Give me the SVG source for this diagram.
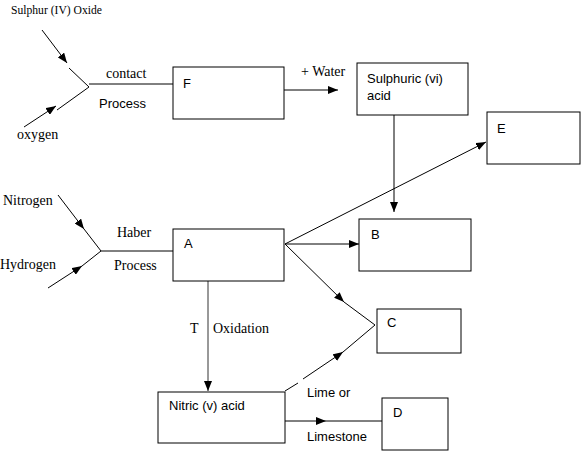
<svg xmlns="http://www.w3.org/2000/svg" width="582" height="456" viewBox="0 0 582 456">
<style>
.box{fill:#fff;stroke:#000;stroke-width:1}
.ln{fill:none;stroke:#000;stroke-width:1}
.ar{fill:none;stroke:#000;stroke-width:1;marker-end:url(#ah)}
.sf{font-family:"Liberation Serif","Times New Roman",serif;font-size:14px;fill:#000}
.ss{font-family:"Liberation Sans",Arial,sans-serif;font-size:13px;fill:#000}
</style>
<defs>
<marker id="ah" markerUnits="userSpaceOnUse" markerWidth="10" markerHeight="8" refX="10" refY="4" orient="auto">
<path d="M0,0 L10,4 L0,8 z" fill="#000"/>
</marker>
</defs>
<rect width="582" height="456" fill="#fff"/>
<g id="connectors">
<line class="ar" x1="42" y1="30" x2="67" y2="63"/>
<line class="ln" x1="69" y1="68" x2="89" y2="87"/>
<line class="ar" x1="24" y1="127" x2="56" y2="106"/>
<line class="ln" x1="57" y1="110" x2="89" y2="87"/>
<line class="ln" x1="89" y1="84" x2="173" y2="84"/>
<line class="ar" x1="284" y1="90" x2="338" y2="90"/>
<line class="ar" x1="394" y1="115" x2="394" y2="212"/>
<line class="ar" x1="58" y1="195" x2="84" y2="229"/>
<line class="ln" x1="84" y1="229" x2="101" y2="251"/>
<line class="ar" x1="48" y1="288" x2="82" y2="266"/>
<line class="ln" x1="82" y1="266" x2="101" y2="251"/>
<line class="ln" x1="101" y1="251" x2="173" y2="251"/>
<line class="ar" x1="285" y1="244" x2="486" y2="142"/>
<line class="ar" x1="285" y1="244" x2="359" y2="244"/>
<line class="ar" x1="285" y1="244" x2="344" y2="302"/>
<line class="ln" x1="344" y1="302" x2="375" y2="325"/>
<line class="ln" x1="285" y1="391" x2="298" y2="383"/>
<line class="ar" x1="303" y1="379" x2="343" y2="352"/>
<line class="ln" x1="343" y1="352" x2="375" y2="325"/>
<line class="ar" x1="208" y1="281" x2="208" y2="391" style="stroke:#333"/>
<line class="ar" x1="285" y1="421" x2="326" y2="421"/>
<line class="ln" x1="326" y1="421" x2="382" y2="421"/>
</g>
<g id="labels">
<text class="sf" x="11" y="14" style="font-size:12px" textLength="91" lengthAdjust="spacingAndGlyphs">Sulphur (IV) Oxide</text>
<text class="sf" x="106" y="78">contact</text>
<text class="ss" x="99" y="108">Process</text>
<text class="sf" x="17" y="139">oxygen</text>
<text class="sf" x="301" y="76">+ Water</text>
<text class="sf" x="3" y="205">Nitrogen</text>
<text class="sf" x="0" y="269">Hydrogen</text>
<text class="sf" x="117" y="237">Haber</text>
<text class="sf" x="114" y="270">Process</text>
<text class="sf" x="190" y="333">T</text>
<text class="sf" x="213" y="333">Oxidation</text>
<text class="ss" x="307" y="397">Lime or</text>
<text class="ss" x="307" y="441">Limestone</text>
</g>
<g id="node-F"><rect class="box" x="173" y="67" width="111" height="52"/><text class="ss" x="183" y="88">F</text></g>
<g id="node-sulphuric"><rect class="box" x="357" y="63" width="111" height="52"/><text class="ss" x="367" y="83">Sulphuric (vi)</text><text class="ss" x="367" y="100">acid</text></g>
<g id="node-E"><rect class="box" x="487" y="112" width="93" height="52"/><text class="ss" x="497" y="133">E</text></g>
<g id="node-B"><rect class="box" x="359" y="219" width="112" height="52"/><text class="ss" x="371" y="239">B</text></g>
<g id="node-A"><rect class="box" x="173" y="229" width="111" height="52"/><text class="ss" x="184" y="248">A</text></g>
<g id="node-C"><rect class="box" x="377" y="309" width="84" height="44"/><text class="ss" x="387" y="327">C</text></g>
<g id="node-nitric"><rect class="box" x="158" y="392" width="127" height="51"/><text class="ss" x="169" y="410">Nitric (v) acid</text></g>
<g id="node-D"><rect class="box" x="382" y="398" width="66" height="52"/><text class="ss" x="393" y="417">D</text></g>
</svg>
